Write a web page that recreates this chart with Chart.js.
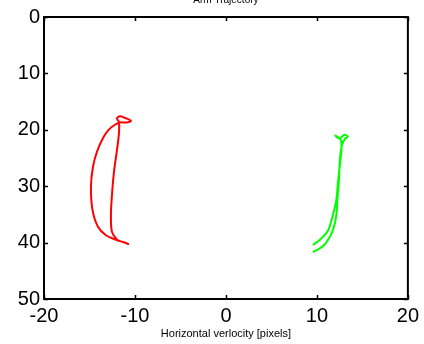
<!DOCTYPE html>
<html>
<head>
<meta charset="utf-8">
<script src="https://cdn.jsdelivr.net/npm/chart.js@4"></script>
<style>
  html, body { margin: 0; padding: 0; background: #fff; }
  #wrap { width: 424px; height: 344px; }
</style>
</head>
<body>
<div id="wrap"><canvas id="wykres"></canvas></div>
<script>
// dane
const tytul = "Arm Trajectory";
const tytulOsiX = "Horizontal verlocity [pixels]";

const xTicks = [-20, -10, 0, 10, 20];
const yTicks = [0, 10, 20, 30, 40, 50];

// trajektoria czerwona
const redX = [-11.98, -12.53, -12.64, -12.53, -12.31, -11.98, -11.76, -11.76, -11.98, -11.65, -11.10, -10.44, -10.93, -11.65, -12.2, -12.9, -13.5, -14.18, -14.62, -14.84, -14.67, -14.07, -13.19, -12.09, -11.32, -10.66];
const redY = [39.5, 38.1, 35.1, 31.6, 27.5, 23.6, 20.6, 18.6, 18.0, 17.6, 17.9, 18.4, 18.7, 18.7, 19.1, 20.0, 21.4, 23.9, 26.6, 30.1, 34.2, 37.2, 38.7, 39.5, 39.9, 40.3];

// trajektoria zielona
const greenX = [9.56, 10.33, 11.21, 11.76, 12.14, 12.31, 12.53, 12.69, 12.64, 12.20, 12.03, 12.53, 12.97, 13.41, 13.08, 12.75, 12.53, 12.42, 12.25, 12.14, 11.76, 10.99, 10.33, 9.56];
const greenY = [40.4, 39.5, 37.9, 35.1, 32.4, 29.4, 26.2, 23.6, 21.8, 21.3, 21.0, 21.5, 20.9, 21.2, 21.6, 22.7, 25.3, 28.9, 32.4, 35.1, 37.8, 40.1, 41.0, 41.7];

function punkty(xs, ys) {
  return xs.map((x, i) => ({ x: x, y: ys[i] }));
}

// ramka i znaczniki skierowane do wewnątrz (styl MATLAB)
const ramka = {
  id: "ramka",
  afterDraw(chart) {
    const ctx = chart.ctx;
    const a = chart.chartArea;
    const sx = chart.scales.x;
    const sy = chart.scales.y;
    ctx.save();
    ctx.strokeStyle = "#000";
    ctx.lineWidth = 2;
    ctx.strokeRect(a.left, a.top, a.right - a.left, a.bottom - a.top);
    ctx.lineWidth = 1.5;
    ctx.beginPath();
    xTicks.forEach((v) => {
      const px = Math.round(sx.getPixelForValue(v)) + 0.5;
      ctx.moveTo(px, a.top); ctx.lineTo(px, a.top + 4);
      ctx.moveTo(px, a.bottom); ctx.lineTo(px, a.bottom - 4);
    });
    yTicks.forEach((v) => {
      const py = Math.round(sy.getPixelForValue(v)) + 0.5;
      ctx.moveTo(a.left, py); ctx.lineTo(a.left + 4, py);
      ctx.moveTo(a.right, py); ctx.lineTo(a.right - 4, py);
    });
    ctx.stroke();
    // tytuł ucięty u góry
    ctx.fillStyle = "#000";
    ctx.font = "10px 'Liberation Sans', Arial, sans-serif";
    ctx.textAlign = "center";
    ctx.textBaseline = "alphabetic";
    ctx.fillText(tytul, (a.left + a.right) / 2, 3);
    ctx.restore();
  },
};

new Chart(document.getElementById("wykres"), {
  type: "scatter",
  data: {
    datasets: [
      {
        data: punkty(redX, redY),
        showLine: true,
        borderColor: "#ff0000",
        borderWidth: 2,
        pointRadius: 0,
        tension: 0.35,
      },
      {
        data: punkty(greenX, greenY),
        showLine: true,
        borderColor: "#00ff00",
        borderWidth: 2,
        pointRadius: 0,
        tension: 0.3,
      },
    ],
  },
  options: {
    responsive: true,
    maintainAspectRatio: false,
    animation: false,
    layout: { padding: { top: 17, right: 16, left: 0, bottom: 0 } },
    plugins: {
      legend: { display: false },
      tooltip: { enabled: false },
    },
    scales: {
      x: {
        type: "linear",
        min: -20,
        max: 20,
        afterBuildTicks: (s) => { s.ticks = xTicks.map((v) => ({ value: v })); },
        afterFit: (s) => { s.height = 45; },
        grid: { display: false, drawTicks: false },
        border: { display: false },
        ticks: {
          color: "#000",
          padding: 5,
          maxRotation: 0,
          font: { family: "'Liberation Sans', Arial, sans-serif", size: 20 },
        },
        title: {
          display: true,
          text: tytulOsiX,
          color: "#000",
          padding: { top: 0, bottom: 3 },
          font: { family: "'Liberation Sans', Arial, sans-serif", size: 11 },
        },
      },
      y: {
        type: "linear",
        reverse: true,
        min: 0,
        max: 50,
        afterBuildTicks: (s) => { s.ticks = yTicks.map((v) => ({ value: v })); },
        afterFit: (s) => { s.width = 44; },
        grid: { display: false, drawTicks: false },
        border: { display: false },
        ticks: {
          color: "#000",
          padding: 4,
          font: { family: "'Liberation Sans', Arial, sans-serif", size: 20 },
        },
      },
    },
  },
  plugins: [ramka],
});
</script>
</body>
</html>
